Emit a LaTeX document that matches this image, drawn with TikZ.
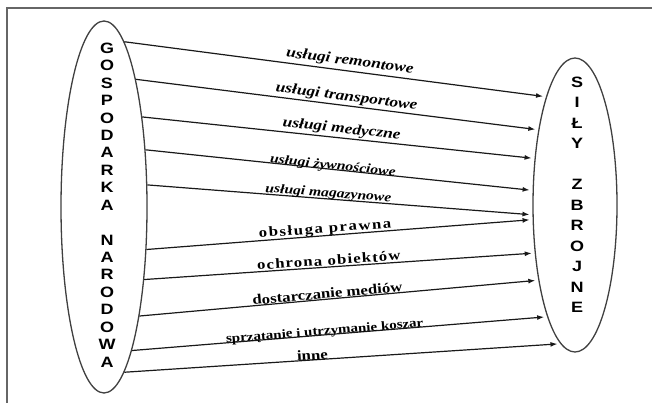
\documentclass[tikz,border=0pt]{standalone}
\usepackage{fontspec}
\usetikzlibrary{arrows.meta,shapes.geometric}
\newfontfamily\capsfont[FakeStretch=1.2]{Liberation Sans}
\newfontfamily\lblfont[FakeStretch=1.2]{Liberation Serif}
\begin{document}
\begin{tikzpicture}[x=1pt,y=-1pt,
  frameline/.style={draw=black!60, line width=1.5pt},
  oval/.style={ellipse, draw=black!75, line width=1.3pt, inner sep=0pt},
  capsL/.style={align=center, inner sep=0pt, text=black,
    font=\capsfont\bfseries\fontsize{15}{17.44}\selectfont},
  capsR/.style={align=center, inner sep=0pt, text=black,
    font=\capsfont\bfseries\fontsize{15}{20.5}\selectfont},
  flow/.style={draw=black!90, line width=1.2pt, -{Latex[length=7pt,width=5pt]}, shorten >=3pt},
  lbl/.style={sloped, anchor=south, inner sep=0pt, text depth=0pt, text=black},
  lblIt/.style={lbl, font=\lblfont\bfseries\itshape\fontsize{#1}{16}\selectfont},
  lblUp/.style={lbl, font=\lblfont\bfseries\fontsize{#1}{16}\selectfont},
  lblSp/.style 2 args={lbl, font=\lblfont\bfseries\fontsize{#1}{16}\selectfont\addfontfeature{LetterSpace=#2}},
]
\useasboundingbox[fill=white] (0,0) rectangle (652,403);
\draw[frameline] (7,403) -- (7,8) -- (652,8);

\node[oval, minimum width=86pt, minimum height=372pt] (GN) at (104,207) {};
\node[oval, minimum width=84pt, minimum height=294pt] (SZ) at (575,205) {};

\node[capsL] (GNtxt) at (107,205) {G\\O\\S\\P\\O\\D\\A\\R\\K\\A\\[17.44pt]N\\A\\R\\O\\D\\O\\W\\A};
\node[capsR] (SZtxt) at (577,195) {S\\I\\Ł\\Y\\[20.5pt]Z\\B\\R\\O\\J\\N\\E};

\draw[flow] (GN.83.51) -- node[lblIt=14.5, pos=.532, outer sep=6pt] (l1) {usługi remontowe} (SZ.105.16);
\draw[flow] (GN.76.49) -- node[lblIt=14.5, pos=.521, outer sep=5pt] (l2) {usługi transportowe} (SZ.116.26);
\draw[flow] (GN.67.33) -- node[lblIt=14.5, pos=.506, outer sep=5pt] (l3) {usługi medyczne} (SZ.131.0);
\draw[flow] (GN.54.27) -- node[lblIt=13, pos=.483, outer sep=0pt] (l4) {usługi żywnościowe} (SZ.161.15);
\draw[flow] (GN.27.10) -- node[lblIt=13, pos=.469, outer sep=2pt] (l5) {usługi magazynowe} (SZ.-167.9);
\draw[flow] (GN.-45) -- node[lblSp={14}{11}, pos=.464, outer sep=3pt] (l6) {obsługa prawna} (SZ.-161.6);
\draw[flow] (GN.-61.0) -- node[lblSp={14}{8}, pos=.474, outer sep=2pt] (l7) {ochrona obiektów} (SZ.-130.4);
\draw[flow] (GN.-72.97) -- node[lblUp=14, pos=.4725, outer sep=1pt] (l8) {dostarczanie mediów} (SZ.-116);
\draw[flow] (GN.-79.07) -- node[lblUp=12.5, pos=.465, outer sep=0pt] (l9) {sprzątanie i utrzymanie koszar} (SZ.-104.4);
\draw[flow] (GN.-83.73) -- node[lblUp=14, pos=.432, outer sep=0pt] (l10) {inne} (SZ.-96.2);
\end{tikzpicture}
\end{document}
